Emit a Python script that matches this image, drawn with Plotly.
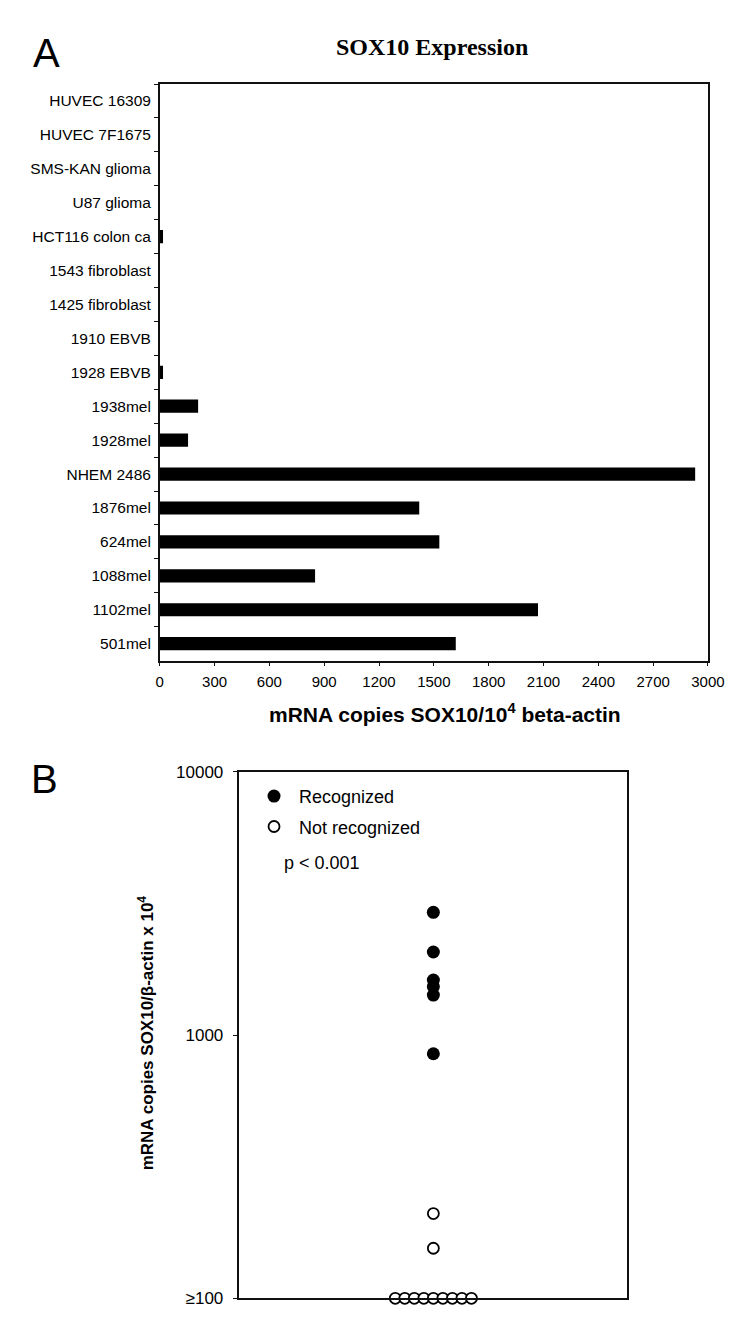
import plotly.graph_objects as go

# ---------------- data ----------------
categories = ["HUVEC 16309", "HUVEC 7F1675", "SMS-KAN glioma", "U87 glioma",
              "HCT116 colon ca", "1543 fibroblast", "1425 fibroblast", "1910 EBVB",
              "1928 EBVB", "1938mel", "1928mel", "NHEM 2486", "1876mel",
              "624mel", "1088mel", "1102mel", "501mel"]
sox10_copies = [0, 0, 0, 0, 18, 0, 0, 0, 18, 210, 155, 2930, 1420, 1530, 850, 2070, 1620]
recognized = [False, False, False, False, False, False, False, False, False,
              False, False, True, True, True, True, True, True]
x_ticks_a = [0, 300, 600, 900, 1200, 1500, 1800, 2100, 2400, 2700, 3000]
y_ticks_b = [100, 1000, 10000]
y_ticktext_b = ["\u2265100", "1000", "10000"]
floor_b = 100

W, H = 750, 1323
FONT = "Liberation Sans, Arial, sans-serif"


def fx(px):
    return px / W


def fy(py):
    return 1 - py / H


# panel B points (values below the floor are shown at the floor, spread sideways)
rec_vals = [v for v, r in zip(sox10_copies, recognized) if r]
non_vals = [max(v, floor_b) for v, r in zip(sox10_copies, recognized) if not r]
non_above = sorted([v for v in non_vals if v > floor_b], reverse=True)
non_floor = [v for v in non_vals if v <= floor_b]
n_floor = len(non_floor)
floor_offsets = [i - (n_floor - 1) / 2 for i in range(n_floor)]
non_x = [0] * len(non_above) + floor_offsets
non_y = non_above + non_floor

fig = go.Figure()

fig.add_trace(go.Bar(
    y=categories, x=sox10_copies, orientation="h", width=0.39,
    marker=dict(color="black", line=dict(width=0)),
    xaxis="x", yaxis="y", showlegend=False))

fig.add_trace(go.Scatter(
    x=[0] * len(rec_vals), y=rec_vals, mode="markers", name=" Recognized",
    marker=dict(symbol="circle", size=13, color="black", line=dict(width=0)),
    xaxis="x2", yaxis="y2", cliponaxis=False, legendgroup="a"))

fig.add_trace(go.Scatter(
    x=non_x, y=non_y, mode="markers", name=" Not recognized",
    marker=dict(symbol="circle", size=11, color="white",
                line=dict(color="black", width=1.8)),
    xaxis="x2", yaxis="y2", cliponaxis=False, legendgroup="b"))

axis_common = dict(showline=True, linecolor="#111", linewidth=1.5, mirror=True,
                   showgrid=False, zeroline=False, ticks="outside", ticklen=4,
                   tickcolor="#111", tickwidth=1.2)

fig.update_layout(
    width=W, height=H,
    margin=dict(l=0, r=0, t=0, b=0),
    paper_bgcolor="white", plot_bgcolor="white",
    font=dict(family=FONT, color="black", size=15),
    xaxis=dict(domain=[fx(152), fx(716)], range=[0, 3000], tickvals=x_ticks_a,
               tickfont=dict(size=15), anchor="y", ticklabelstandoff=3,
               **axis_common),
    yaxis=dict(domain=[fy(653), fy(68)], type="category",
               categoryorder="array", categoryarray=categories[::-1],
               tickson="boundaries", tickfont=dict(size=15.5), anchor="x",
               ticklabelstandoff=4,
               **axis_common),
    xaxis2=dict(domain=[fx(234), fx(633)], range=[-20.36, 20.36],
                showticklabels=False, anchor="y2",
                **{**axis_common, "ticks": ""}),
    yaxis2=dict(domain=[fy(1300), fy(766)], type="log", range=[2, 4],
                tickvals=y_ticks_b, ticktext=y_ticktext_b, tickfont=dict(size=17),
                anchor="x2", ticklabelstandoff=6,
                **{**axis_common, "ticklen": 5}),
    showlegend=True,
    legend=dict(x=fx(249), y=fy(772), xanchor="left", yanchor="top",
                bgcolor="rgba(0,0,0,0)", font=dict(size=18),
                traceorder="grouped", tracegroupgap=4, itemclick=False),
    annotations=[
        dict(text="A", x=fx(35), y=fy(37), xref="paper", yref="paper",
             xanchor="center", yanchor="middle",
             showarrow=False, font=dict(size=40, family=FONT)),
        dict(text="B", x=fx(33), y=fy(773), xref="paper", yref="paper",
             xanchor="center", yanchor="middle",
             showarrow=False, font=dict(size=40, family=FONT)),
        dict(text="<b>SOX10 Expression</b>", x=fx(432), y=fy(30),
             xref="paper", yref="paper", xanchor="center", yanchor="middle",
             showarrow=False,
             font=dict(size=24, family="Liberation Serif, Times New Roman, serif")),
        dict(text="<b>mRNA copies SOX10/10<sup>4</sup> beta-actin</b>",
             x=fx(445), y=fy(706), xref="paper", yref="paper",
             xanchor="center", yanchor="middle", showarrow=False,
             font=dict(size=21)),
        dict(text="<b>mRNA copies SOX10/\u03b2-actin x 10<sup>4</sup></b>",
             x=fx(138), y=fy(1031), xref="paper", yref="paper", textangle=-90,
             xanchor="center", yanchor="middle", showarrow=False,
             font=dict(size=17)),
        dict(text="p < 0.001", x=fx(278), y=fy(858), xref="paper", yref="paper",
             xanchor="left", yanchor="middle", showarrow=False,
             font=dict(size=18)),
    ],
)

fig.write_html("out.html")
